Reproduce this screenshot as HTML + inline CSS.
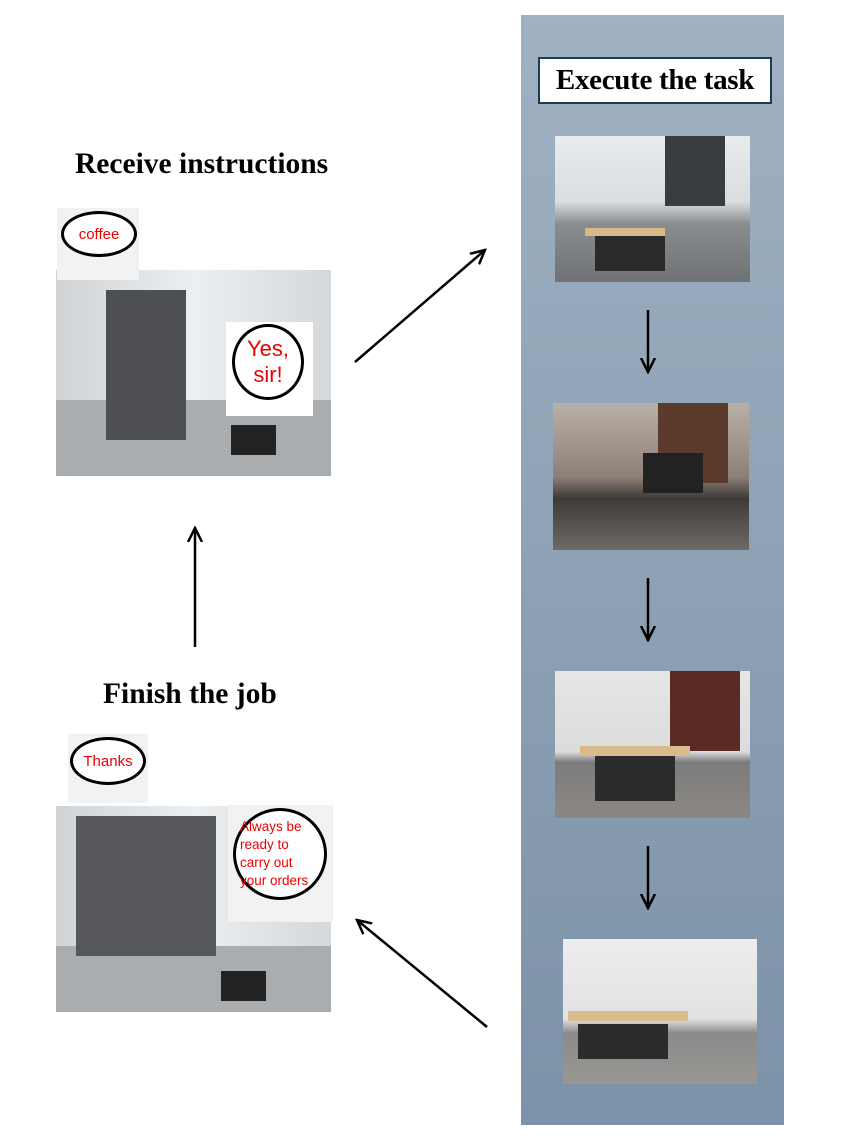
<!DOCTYPE html>
<html><head><meta charset="utf-8"><style>
body{margin:0;width:846px;height:1146px;background:#fff;position:relative;overflow:hidden;font-family:"Liberation Serif",serif}
.a{position:absolute}
.panel{left:521px;top:15px;width:263px;height:1110px;background:linear-gradient(#a0b1c2,#7c92a8)}
.title{left:538px;top:57px;width:230px;height:43px;background:#fff;border:2px solid #1f3b4d;font-weight:bold;font-size:29px;text-align:center;line-height:43px;white-space:nowrap;letter-spacing:-0.3px}
.h{font-weight:bold;font-size:29.5px;white-space:nowrap}
.ph{position:absolute;overflow:hidden}
.bub{position:absolute;background:#f2f2f2}
.bub div{position:absolute;border:3px solid #000;border-radius:50%;background:#fff;color:#e00;font-family:"Liberation Sans",sans-serif;display:flex;align-items:center;justify-content:center;text-align:center}
</style></head><body>
<div class="a panel"></div>
<div class="a title">Execute the task</div>
<div class="ph" style="left:555px;top:136px;width:195px;height:146px;background:linear-gradient(#e8ecee 0,#d9dde0 45%,#8a8d90 60%,#6f7275 100%)"><div class="a" style="left:110px;top:0;width:60px;height:70px;background:#3a3d40"></div><div class="a" style="left:40px;top:95px;width:70px;height:40px;background:#2a2a2a"></div><div class="a" style="left:30px;top:92px;width:80px;height:8px;background:#d8b98a"></div></div>
<div class="ph" style="left:553px;top:403px;width:196px;height:147px;background:linear-gradient(#b8b0a8 0,#8e8078 50%,#3c3a38 65%,#6e6a66 100%)"><div class="a" style="left:105px;top:0;width:70px;height:80px;background:#5a3b2c"></div><div class="a" style="left:90px;top:50px;width:60px;height:40px;background:#222"></div></div>
<div class="ph" style="left:555px;top:671px;width:195px;height:147px;background:linear-gradient(#e6e6e6 0,#dcdcdc 55%,#7c7c7c 62%,#8c8884 100%)"><div class="a" style="left:115px;top:0;width:70px;height:80px;background:#5b2a24"></div><div class="a" style="left:40px;top:80px;width:80px;height:50px;background:#2b2b2b"></div><div class="a" style="left:25px;top:75px;width:110px;height:10px;background:#d9bb8c"></div></div>
<div class="ph" style="left:563px;top:939px;width:194px;height:145px;background:linear-gradient(#ededed 0,#e2e2e2 55%,#8a8a8a 65%,#9a9894 100%)"><div class="a" style="left:15px;top:85px;width:90px;height:35px;background:#2b2b2b"></div><div class="a" style="left:5px;top:72px;width:120px;height:10px;background:#d9bb8c"></div></div>

<div class="a h" style="left:75px;top:148px">Receive instructions</div>
<div class="a h" style="left:103px;top:678px">Finish the job</div>

<div class="ph" style="left:56px;top:270px;width:275px;height:206px;background:linear-gradient(90deg,#cfd3d6,#eceff1 50%,#d5d8da);"><div class="a" style="left:0;top:130px;width:275px;height:76px;background:#a9adb0"></div><div class="a" style="left:50px;top:20px;width:80px;height:150px;background:#4d4f52"></div><div class="a" style="left:175px;top:155px;width:45px;height:30px;background:#222"></div></div>
<div class="ph" style="left:56px;top:806px;width:275px;height:206px;background:linear-gradient(90deg,#cfd3d6,#eceff1 50%,#d5d8da);"><div class="a" style="left:0;top:140px;width:275px;height:66px;background:#a9adb0"></div><div class="a" style="left:20px;top:10px;width:140px;height:140px;background:#55575a"></div><div class="a" style="left:165px;top:165px;width:45px;height:30px;background:#222"></div></div>

<div class="bub" style="left:57px;top:208px;width:82px;height:72px"><div style="left:4px;top:3px;width:70px;height:40px;font-size:15px">coffee</div></div>
<div class="bub" style="left:226px;top:322px;width:87px;height:94px;background:#fff"><div style="left:6px;top:2px;width:66px;height:70px;font-size:22px;line-height:26px">Yes,<br>sir!</div></div>
<div class="bub" style="left:68px;top:734px;width:80px;height:69px"><div style="left:2px;top:3px;width:70px;height:42px;font-size:15px">Thanks</div></div>
<div class="bub" style="left:228px;top:805px;width:105px;height:117px"><div style="left:5px;top:3px;width:94px;height:92px;font-size:13.5px;line-height:18px;text-align:left;justify-content:flex-start;padding-left:4px;box-sizing:border-box">Always be<br>ready to<br>carry out<br>your orders</div></div>

<svg class="a" style="left:0;top:0" width="846" height="1146">
<defs>
<marker id="n" markerWidth="16" markerHeight="16" refX="14" refY="8" orient="auto" markerUnits="userSpaceOnUse"><path d="M0,1 L14,8 L0,15" fill="none" stroke="#000" stroke-width="2.5"/></marker></defs>
<g stroke="#000" stroke-width="2.5" fill="none">
<line x1="648" y1="310" x2="648" y2="372" marker-end="url(#n)"/>
<line x1="648" y1="578" x2="648" y2="640" marker-end="url(#n)"/>
<line x1="648" y1="846" x2="648" y2="908" marker-end="url(#n)"/>
<line x1="195" y1="647" x2="195" y2="528" marker-end="url(#n)"/>
<line x1="355" y1="362" x2="485" y2="250" marker-end="url(#n)"/>
<line x1="487" y1="1027" x2="357" y2="920" marker-end="url(#n)"/>
</g></svg>
</body></html>
